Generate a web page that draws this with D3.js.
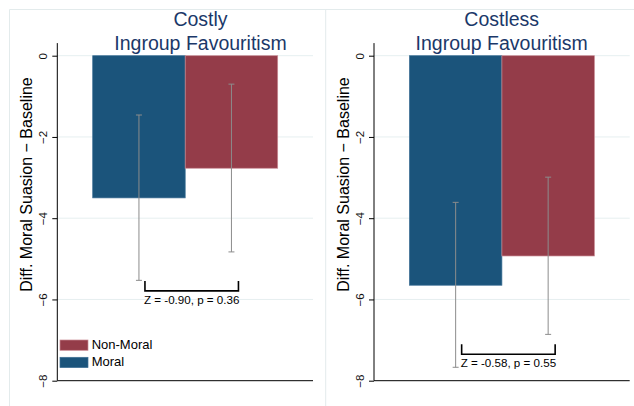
<!DOCTYPE html>
<html>
<head>
<meta charset="utf-8">
<script src="https://cdn.jsdelivr.net/npm/d3@7"></script>
<style>
  html, body { margin: 0; padding: 0; background: #fff; }
  svg { display: block; font-family: "Liberation Sans", Arial, sans-serif; }
</style>
</head>
<body>
<div id="chart"></div>
<script>
// data
const groups = ["Moral", "Non-Moral"]
const legendOrder = ["Non-Moral", "Moral"]
const panelTitles = [["Costly", "Ingroup Favouritism"], ["Costless", "Ingroup Favouritism"]]
const costlyMean = [-3.50, -2.77]
const costlyLow = [-5.53, -4.83]
const costlyHigh = [-1.46, -0.70]
const costlessMean = [-5.65, -4.93]
const costlessLow = [-7.67, -6.86]
const costlessHigh = [-3.61, -2.99]
const testLabels = ["Z = -0.90, p = 0.36", "Z = -0.58, p = 0.55"]
const bracketLevel = [-5.79, -7.35]
const yTicks = [0, -2, -4, -6, -8]

const colors = { "Moral": "#1b547b", "Non-Moral": "#943c49" }
const edges = { "Moral": "#3f7196", "Non-Moral": "#c98b94" }

const panels = [
	{ mean: costlyMean, low: costlyLow, high: costlyHigh, dx: 0, titleX: 200.5 },
	{ mean: costlessMean, low: costlessLow, high: costlessHigh, dx: 316.7, titleX: 185 }
]

const W = 634, H = 406
const svg = d3.select("#chart").append("svg")
	.attr("width", W)
	.attr("height", H)

// outer frame of the combined graph
svg.append("path")
	.attr("d", "M9.5,406 V9.5 H634 M325.7,9.5 V406")
	.attr("fill", "none")
	.attr("stroke", "#e3ebec")

const y = d3.scaleLinear().domain([0, -8]).range([55.7, 380.7])
const x = d3.scaleBand().domain(groups).range([92.7, 277.7]).paddingInner(0)
const plotLeft = 57.3, plotRight = 313

panels.forEach((p, i) => {
	const g = svg.append("g").attr("transform", `translate(${p.dx},0)`)

	// gridlines
	g.selectAll(".grid")
		.data(yTicks.slice(0, -1))
		.enter().append("line")
		.attr("x1", plotLeft).attr("x2", plotRight)
		.attr("y1", d => y(d)).attr("y2", d => y(d))
		.attr("stroke", "#e6eff0")

	// bars
	g.selectAll(".bar")
		.data(groups)
		.enter().append("rect")
		.attr("x", d => x(d))
		.attr("width", x.bandwidth())
		.attr("y", y(0))
		.attr("height", (d, j) => y(p.mean[j]) - y(0))
		.attr("fill", d => colors[d])
		.attr("stroke", d => edges[d])
		.attr("stroke-width", 0.7)

	// error bars
	const eb = g.selectAll(".err")
		.data(groups)
		.enter().append("g")
		.attr("stroke", "#8c8c8c")
		.attr("stroke-width", 1)
	eb.append("line")
		.attr("x1", d => x(d) + x.bandwidth() / 2)
		.attr("x2", d => x(d) + x.bandwidth() / 2)
		.attr("y1", (d, j) => y(p.high[j]))
		.attr("y2", (d, j) => y(p.low[j]))
	eb.append("line")
		.attr("x1", d => x(d) + x.bandwidth() / 2 - 3)
		.attr("x2", d => x(d) + x.bandwidth() / 2 + 3)
		.attr("y1", (d, j) => y(p.high[j]))
		.attr("y2", (d, j) => y(p.high[j]))
	eb.append("line")
		.attr("x1", d => x(d) + x.bandwidth() / 2 - 3)
		.attr("x2", d => x(d) + x.bandwidth() / 2 + 3)
		.attr("y1", (d, j) => y(p.low[j]))
		.attr("y2", (d, j) => y(p.low[j]))

	// y axis
	const axis = g.append("g")
		.attr("transform", `translate(${plotLeft},0)`)
		.call(d3.axisLeft(y).tickValues(yTicks).tickSize(5).tickSizeOuter(0))
	axis.select(".domain").remove()
	axis.selectAll(".tick line").attr("stroke", "#000")
	axis.selectAll(".tick text")
		.attr("transform", "rotate(-90)")
		.attr("x", 0).attr("y", -10.5)
		.attr("dy", 0)
		.attr("text-anchor", "middle")
		.attr("font-size", 11.5)
		.attr("font-family", "Liberation Sans, Arial, sans-serif")
		.attr("fill", "#111")
	g.append("line")
		.attr("x1", plotLeft).attr("x2", plotLeft)
		.attr("y1", y(0.31)).attr("y2", y(-8))
		.attr("stroke", "#000")
	g.append("line")
		.attr("x1", plotLeft).attr("x2", plotRight)
		.attr("y1", y(-8)).attr("y2", y(-8))
		.attr("stroke", "#000")

	g.append("text")
		.attr("transform", `translate(32,184.5) rotate(-90)`)
		.attr("text-anchor", "middle")
		.attr("font-size", 16)
		.attr("fill", "#000")
		.text("Diff. Moral Suasion \u2212 Baseline")

	// title
	g.append("text")
		.attr("x", p.titleX).attr("y", 26)
		.attr("text-anchor", "middle")
		.attr("font-size", 19.5)
		.attr("fill", "#1b3869")
		.selectAll("tspan")
		.data(panelTitles[i])
		.enter().append("tspan")
		.attr("x", p.titleX)
		.attr("dy", (d, k) => k === 0 ? 0 : 24)
		.text(d => d)

	// comparison bracket
	const bx1 = x(groups[0]) + x.bandwidth() / 2 + 6
	const bx2 = x(groups[1]) + x.bandwidth() / 2 + 7
	const by = y(bracketLevel[i])
	g.append("path")
		.attr("d", `M${bx1},${by - 10} V${by} H${bx2} V${by - 10}`)
		.attr("fill", "none")
		.attr("stroke", "#000")
		.attr("stroke-width", 1.6)
	g.append("text")
		.attr("x", (bx1 + bx2) / 2).attr("y", by + 12.8)
		.attr("text-anchor", "middle")
		.attr("font-size", 11.6)
		.attr("fill", "#000")
		.text(testLabels[i])

	// legend only in the first panel
	if (i === 0) {
		const lg = g.selectAll(".legend")
			.data(legendOrder)
			.enter().append("g")
			.attr("transform", (d, k) => `translate(60,${340 + k * 17.3})`)
		lg.append("rect")
			.attr("width", 28).attr("height", 10.3)
			.attr("fill", d => colors[d])
			.attr("stroke", d => edges[d])
			.attr("stroke-width", 0.7)
		lg.append("text")
			.attr("x", 31.7).attr("y", 9)
			.attr("font-size", 13)
			.attr("fill", "#000")
			.text(d => d)
	}
})
</script>
</body>
</html>
